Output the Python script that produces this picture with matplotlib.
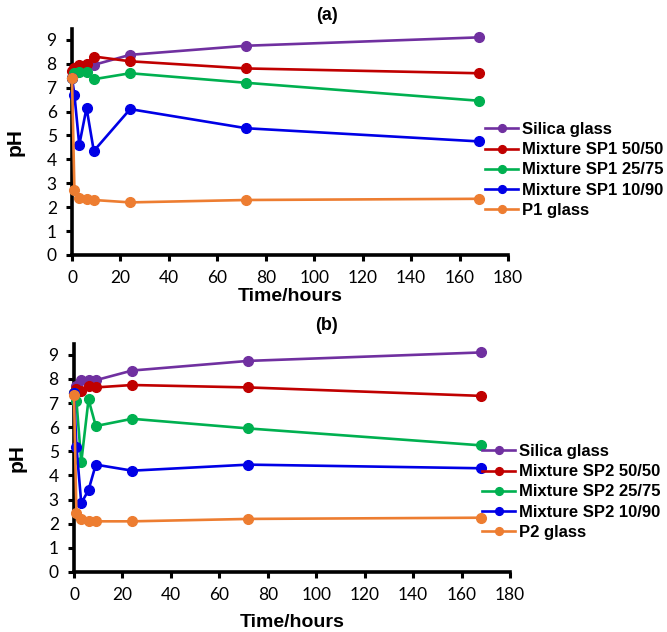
import matplotlib
matplotlib.use("Agg")
import matplotlib.pyplot as plt

time_h = [0, 1, 3, 6, 9, 24, 72, 168]

# Panel (a)
a_labels = ["Silica glass", "Mixture SP1 50/50", "Mixture SP1 25/75", "Mixture SP1 10/90", "P1 glass"]
a_silica = [7.4, 7.7, 7.9, 7.9, 7.95, 8.37, 8.75, 9.1]
a_sp50 = [7.7, 7.8, 7.95, 8.0, 8.3, 8.1, 7.8, 7.6]
a_sp25 = [7.4, 7.6, 7.65, 7.65, 7.35, 7.6, 7.2, 6.45]
a_sp10 = [7.4, 6.7, 4.6, 6.15, 4.35, 6.1, 5.3, 4.75]
a_p1 = [7.4, 2.7, 2.4, 2.35, 2.3, 2.2, 2.3, 2.35]

# Panel (b)
b_labels = ["Silica glass", "Mixture SP2 50/50", "Mixture SP2 25/75", "Mixture SP2 10/90", "P2 glass"]
b_silica = [7.4, 7.7, 7.95, 7.95, 7.95, 8.35, 8.75, 9.1]
b_sp50 = [7.4, 7.6, 7.5, 7.7, 7.65, 7.75, 7.65, 7.3]
b_sp25 = [7.4, 7.1, 4.55, 7.15, 6.05, 6.35, 5.95, 5.25]
b_sp10 = [7.4, 5.2, 2.85, 3.4, 4.45, 4.2, 4.45, 4.3]
b_p2 = [7.35, 2.45, 2.2, 2.1, 2.1, 2.1, 2.2, 2.25]

colors = ["#7030A0", "#C00000", "#00B050", "#0000E6", "#ED7D31"]
x_ticks = list(range(0, 181, 20))
y_ticks = list(range(0, 10))

W, H = 667, 632
fig = plt.figure(figsize=(W / 100, H / 100), dpi=100)

label_font = ["Liberation Sans", "DejaVu Sans"]
tick_font = ["Lato", "DejaVu Sans"]


def make_panel(rect, series, labels, title, title_y, leg_anchor, xlabelpad):
    ax = fig.add_axes(rect)
    for vals, lab, c in zip(series, labels, colors):
        ax.plot(time_h, vals, color=c, lw=1.9, marker="o", ms=7,
                label=lab, clip_on=False, zorder=3)
    ax.set_xlim(0, 180)
    ax.set_ylim(0, 9.45)
    ax.set_xticks(x_ticks)
    ax.set_yticks(y_ticks)
    for s in ["top", "right"]:
        ax.spines[s].set_visible(False)
    for s in ["left", "bottom"]:
        ax.spines[s].set_linewidth(2.6)
    ax.tick_params(axis="both", direction="out", length=4, width=2.2,
                   labelsize=12.5, pad=7)
    for t in ax.get_xticklabels() + ax.get_yticklabels():
        t.set_fontfamily(tick_font)
    ax.set_xlabel("Time/hours", fontsize=14, fontweight="bold",
                  fontfamily=label_font, labelpad=xlabelpad)
    ax.set_ylabel("pH", fontsize=15, fontweight="bold",
                  fontfamily=label_font, labelpad=16)
    fig.text(327 / W, 1 - title_y / H, title, ha="center", va="center",
             fontsize=13, fontweight="bold", fontfamily=label_font)
    ax.legend(loc="center left", bbox_to_anchor=leg_anchor,
              bbox_transform=fig.transFigure, frameon=False,
              prop={"family": label_font, "weight": "bold", "size": 12},
              handlelength=2.0, handletextpad=0.2, labelspacing=0.31,
              borderpad=0, borderaxespad=0, numpoints=1, markerscale=0.8)
    return ax


make_panel([72 / W, 1 - 255 / H, 436 / W, 226 / H],
           [a_silica, a_sp50, a_sp25, a_sp10, a_p1], a_labels, "(a)", 15,
           (485 / W, 1 - 170 / H), 1)
make_panel([74 / W, 1 - 572 / H, 436 / W, 228 / H],
           [b_silica, b_sp50, b_sp25, b_sp10, b_p2], b_labels, "(b)", 325,
           (482 / W, 1 - 492 / H), 8)

fig.savefig("out.png", dpi=100)
